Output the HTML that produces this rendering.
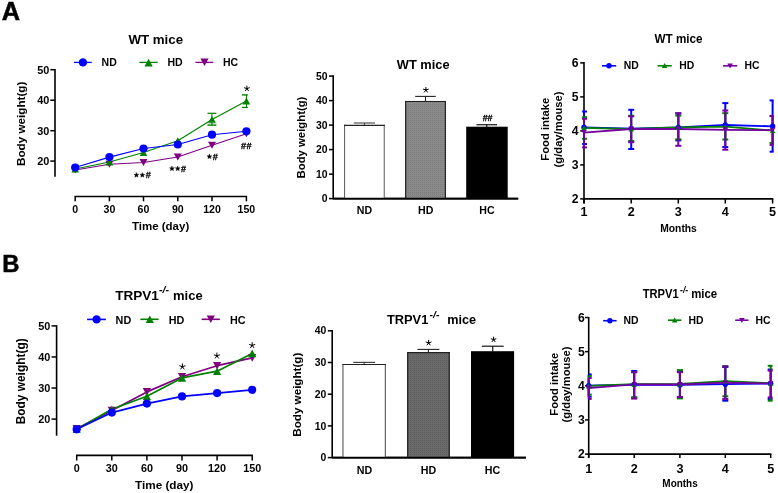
<!DOCTYPE html>
<html><head><meta charset="utf-8"><title>Figure</title>
<style>
html,body{margin:0;padding:0;background:#fff;}
body{width:778px;height:493px;overflow:hidden;}
svg{display:block;will-change:transform;}
text{font-family:"Liberation Sans", sans-serif;}
</style></head>
<body>
<svg width="778" height="493" viewBox="0 0 778 493">
<defs>
<pattern id="dotA" patternUnits="userSpaceOnUse" x="0" y="0" width="2" height="2"><rect width="2" height="2" fill="#8a8a8a"/><rect width="1" height="1" fill="#7c7c7c"/></pattern>
<pattern id="dotB" patternUnits="userSpaceOnUse" x="0" y="0" width="2" height="2"><rect width="2" height="2" fill="#6a6a6a"/><rect width="1" height="1" fill="#5e5e5e"/></pattern>
</defs>
<rect width="778" height="493" fill="#fff"/>
<text x="1.8" y="19.7" font-size="25.4" text-anchor="start" font-weight="bold" fill="#000" stroke="#000" stroke-width="0.5">A</text>
<text x="2.2" y="271.8" font-size="23.8" text-anchor="start" font-weight="bold" fill="#000" stroke="#000" stroke-width="0.5">B</text>
<line x1="55" y1="69" x2="55" y2="176.8" stroke="#000" stroke-width="1.6" stroke-linecap="butt"/>
<line x1="50.3" y1="69.7" x2="55" y2="69.7" stroke="#000" stroke-width="1.5" stroke-linecap="butt"/>
<text x="49.4" y="73.7" font-size="10.9" text-anchor="end" font-weight="bold" fill="#000">50</text>
<line x1="50.3" y1="100.2" x2="55" y2="100.2" stroke="#000" stroke-width="1.5" stroke-linecap="butt"/>
<text x="49.4" y="104.2" font-size="10.9" text-anchor="end" font-weight="bold" fill="#000">40</text>
<line x1="50.3" y1="130.7" x2="55" y2="130.7" stroke="#000" stroke-width="1.5" stroke-linecap="butt"/>
<text x="49.4" y="134.7" font-size="10.9" text-anchor="end" font-weight="bold" fill="#000">30</text>
<line x1="50.3" y1="161.1" x2="55" y2="161.1" stroke="#000" stroke-width="1.5" stroke-linecap="butt"/>
<text x="49.4" y="165.1" font-size="10.9" text-anchor="end" font-weight="bold" fill="#000">20</text>
<line x1="74.5" y1="196.5" x2="247.1" y2="196.5" stroke="#000" stroke-width="1.6" stroke-linecap="butt"/>
<line x1="75.2" y1="196.5" x2="75.2" y2="201.3" stroke="#000" stroke-width="1.5" stroke-linecap="butt"/>
<text x="75.2" y="213.2" font-size="10.6" text-anchor="middle" font-weight="bold" fill="#000">0</text>
<line x1="109.4" y1="196.5" x2="109.4" y2="201.3" stroke="#000" stroke-width="1.5" stroke-linecap="butt"/>
<text x="109.4" y="213.2" font-size="10.6" text-anchor="middle" font-weight="bold" fill="#000">30</text>
<line x1="143.5" y1="196.5" x2="143.5" y2="201.3" stroke="#000" stroke-width="1.5" stroke-linecap="butt"/>
<text x="143.5" y="213.2" font-size="10.6" text-anchor="middle" font-weight="bold" fill="#000">60</text>
<line x1="177.8" y1="196.5" x2="177.8" y2="201.3" stroke="#000" stroke-width="1.5" stroke-linecap="butt"/>
<text x="177.8" y="213.2" font-size="10.6" text-anchor="middle" font-weight="bold" fill="#000">90</text>
<line x1="212" y1="196.5" x2="212" y2="201.3" stroke="#000" stroke-width="1.5" stroke-linecap="butt"/>
<text x="212" y="213.2" font-size="10.6" text-anchor="middle" font-weight="bold" fill="#000">120</text>
<line x1="246.4" y1="196.5" x2="246.4" y2="201.3" stroke="#000" stroke-width="1.5" stroke-linecap="butt"/>
<text x="246.4" y="213.2" font-size="10.6" text-anchor="middle" font-weight="bold" fill="#000">150</text>
<line x1="74" y1="62.4" x2="91.7" y2="62.4" stroke="#0000ff" stroke-width="1.3" stroke-linecap="butt"/>
<circle cx="82.9" cy="62.4" r="4.2" fill="#0000ff"/>
<text x="101.6" y="66.2" font-size="10.5" text-anchor="start" font-weight="bold" fill="#000">ND</text>
<line x1="139.4" y1="62.4" x2="157.7" y2="62.4" stroke="#008000" stroke-width="1.3" stroke-linecap="butt"/>
<polygon points="144.5,66.4 152.7,66.4 148.6,58.8" fill="#008000"/>
<text x="167.5" y="66.2" font-size="10.5" text-anchor="start" font-weight="bold" fill="#000">HD</text>
<line x1="195.4" y1="62.4" x2="213.3" y2="62.4" stroke="#800080" stroke-width="1.3" stroke-linecap="butt"/>
<polygon points="200.4,58.5 208.6,58.5 204.5,66.1" fill="#800080"/>
<text x="223" y="66.2" font-size="10.5" text-anchor="start" font-weight="bold" fill="#000">HC</text>
<polyline points="75.2,170 109.4,164.3 143.5,162.5 177.8,157 212,145.2 246.4,133.7" fill="none" stroke="#800080" stroke-width="1.15" stroke-linejoin="round"/>
<polyline points="75.2,169 109.4,162 143.5,152.5 177.8,140.8 212,119.4 246.4,101" fill="none" stroke="#008000" stroke-width="1.15" stroke-linejoin="round"/>
<polyline points="75.2,167.5 109.4,157.1 143.5,148.5 177.8,144.5 212,134.7 246.4,131.3" fill="none" stroke="#0000ff" stroke-width="1.15" stroke-linejoin="round"/>
<line x1="211.9" y1="113.3" x2="211.9" y2="125.2" stroke="#008000" stroke-width="1.1" stroke-linecap="butt"/>
<line x1="207.5" y1="113.3" x2="216.4" y2="113.3" stroke="#008000" stroke-width="1.2" stroke-linecap="butt"/>
<line x1="207.5" y1="124.2" x2="216.4" y2="124.2" stroke="#008000" stroke-width="0.8" stroke-linecap="butt"/>
<line x1="207.5" y1="125.4" x2="216.4" y2="125.4" stroke="#008000" stroke-width="0.9" stroke-linecap="butt"/>
<line x1="246.5" y1="94.9" x2="246.5" y2="107.4" stroke="#008000" stroke-width="1.1" stroke-linecap="butt"/>
<line x1="241.9" y1="94.9" x2="247.8" y2="94.9" stroke="#008000" stroke-width="1.4" stroke-linecap="butt"/>
<line x1="242.1" y1="107.4" x2="247.8" y2="107.4" stroke="#008000" stroke-width="1.2" stroke-linecap="butt"/>
<polygon points="71.2,166.5 79.2,166.5 75.2,173.5" fill="#800080"/>
<polygon points="105.4,160.8 113.4,160.8 109.4,167.8" fill="#800080"/>
<polygon points="139.5,159 147.5,159 143.5,166" fill="#800080"/>
<polygon points="173.8,153.5 181.8,153.5 177.8,160.5" fill="#800080"/>
<polygon points="208,141.7 216,141.7 212,148.7" fill="#800080"/>
<polygon points="242.4,130.2 250.4,130.2 246.4,137.2" fill="#800080"/>
<polygon points="71.4,172.45 79,172.45 75.2,165.55" fill="#008000"/>
<polygon points="105.6,165.45 113.2,165.45 109.4,158.55" fill="#008000"/>
<polygon points="139.7,155.95 147.3,155.95 143.5,149.05" fill="#008000"/>
<polygon points="174,144.25 181.6,144.25 177.8,137.35" fill="#008000"/>
<polygon points="208.2,122.85 215.8,122.85 212,115.95" fill="#008000"/>
<polygon points="242.6,104.45 250.2,104.45 246.4,97.55" fill="#008000"/>
<circle cx="75.2" cy="167.5" r="4.1" fill="#0000ff"/>
<circle cx="109.4" cy="157.1" r="4.1" fill="#0000ff"/>
<circle cx="143.5" cy="148.5" r="4.1" fill="#0000ff"/>
<circle cx="177.8" cy="144.5" r="4.1" fill="#0000ff"/>
<circle cx="212" cy="134.7" r="4.1" fill="#0000ff"/>
<circle cx="246.4" cy="131.3" r="4.1" fill="#0000ff"/>
<path d="M246.9,88.6L246.9,85.99M246.9,88.6L249.38,87.79M246.9,88.6L248.43,90.71M246.9,88.6L245.37,90.71M246.9,88.6L244.42,87.79" stroke="#000" stroke-width="1.0" stroke-linecap="round" fill="none"/>
<circle cx="246.9" cy="88.6" r="0.75" fill="#000"/>
<text x="240.99" y="149.06" font-size="9.0" text-anchor="start" font-weight="bold" fill="#000" stroke="#000" stroke-width="0.3">#</text>
<text x="246.39" y="149.06" font-size="9.0" text-anchor="start" font-weight="bold" fill="#000" stroke="#000" stroke-width="0.3">#</text>
<polygon points="209.4,154 210.1,155.63 211.87,155.8 210.54,156.97 210.93,158.7 209.4,157.8 207.87,158.7 208.26,156.97 206.93,155.8 208.7,155.63" fill="#000" stroke="#000" stroke-width="0.35" stroke-linejoin="round"/>
<text x="212.69" y="159.66" font-size="9.0" text-anchor="start" font-weight="bold" fill="#000" stroke="#000" stroke-width="0.3">#</text>
<polygon points="171.95,166 172.65,167.63 174.42,167.8 173.09,168.97 173.48,170.7 171.95,169.8 170.42,170.7 170.81,168.97 169.48,167.8 171.25,167.63" fill="#000" stroke="#000" stroke-width="0.35" stroke-linejoin="round"/>
<polygon points="177.7,166 178.4,167.63 180.17,167.8 178.84,168.97 179.23,170.7 177.7,169.8 176.17,170.7 176.56,168.97 175.23,167.8 177,167.63" fill="#000" stroke="#000" stroke-width="0.35" stroke-linejoin="round"/>
<text x="180.94" y="171.66" font-size="9.0" text-anchor="start" font-weight="bold" fill="#000" stroke="#000" stroke-width="0.3">#</text>
<polygon points="136.4,172.5 137.1,174.13 138.87,174.3 137.54,175.47 137.93,177.2 136.4,176.3 134.87,177.2 135.26,175.47 133.93,174.3 135.7,174.13" fill="#000" stroke="#000" stroke-width="0.35" stroke-linejoin="round"/>
<polygon points="142.35,172.5 143.05,174.13 144.82,174.3 143.49,175.47 143.88,177.2 142.35,176.3 140.82,177.2 141.21,175.47 139.88,174.3 141.65,174.13" fill="#000" stroke="#000" stroke-width="0.35" stroke-linejoin="round"/>
<text x="145.79" y="178.16" font-size="9.0" text-anchor="start" font-weight="bold" fill="#000" stroke="#000" stroke-width="0.3">#</text>
<line x1="333.2" y1="75.2" x2="333.2" y2="199.2" stroke="#000" stroke-width="1.6" stroke-linecap="butt"/>
<line x1="329" y1="198.6" x2="333.2" y2="198.6" stroke="#000" stroke-width="1.5" stroke-linecap="butt"/>
<text x="327.6" y="202.2" font-size="10.4" text-anchor="end" font-weight="bold" fill="#000">0</text>
<line x1="329" y1="174.1" x2="333.2" y2="174.1" stroke="#000" stroke-width="1.5" stroke-linecap="butt"/>
<text x="327.6" y="177.7" font-size="10.4" text-anchor="end" font-weight="bold" fill="#000">10</text>
<line x1="329" y1="149.6" x2="333.2" y2="149.6" stroke="#000" stroke-width="1.5" stroke-linecap="butt"/>
<text x="327.6" y="153.2" font-size="10.4" text-anchor="end" font-weight="bold" fill="#000">20</text>
<line x1="329" y1="125.1" x2="333.2" y2="125.1" stroke="#000" stroke-width="1.5" stroke-linecap="butt"/>
<text x="327.6" y="128.7" font-size="10.4" text-anchor="end" font-weight="bold" fill="#000">30</text>
<line x1="329" y1="100.6" x2="333.2" y2="100.6" stroke="#000" stroke-width="1.5" stroke-linecap="butt"/>
<text x="327.6" y="104.2" font-size="10.4" text-anchor="end" font-weight="bold" fill="#000">40</text>
<line x1="329" y1="76.1" x2="333.2" y2="76.1" stroke="#000" stroke-width="1.5" stroke-linecap="butt"/>
<text x="327.6" y="79.7" font-size="10.4" text-anchor="end" font-weight="bold" fill="#000">50</text>
<line x1="333.2" y1="198.6" x2="518.2" y2="198.6" stroke="#000" stroke-width="1.6" stroke-linecap="butt"/>
<rect x="344" y="124.8" width="40.8" height="73.8" fill="#fff" stroke="none" stroke-width="0"/>
<line x1="344.55" y1="124.8" x2="344.55" y2="198.6" stroke="#666" stroke-width="1.1" stroke-linecap="butt"/>
<line x1="384.25" y1="124.8" x2="384.25" y2="198.6" stroke="#666" stroke-width="1.1" stroke-linecap="butt"/>
<line x1="344" y1="125.35" x2="384.8" y2="125.35" stroke="#222" stroke-width="1.1" stroke-linecap="butt"/>
<line x1="364.4" y1="123" x2="364.4" y2="125.1" stroke="#444" stroke-width="1.1" stroke-linecap="butt"/>
<line x1="353.8" y1="123" x2="375" y2="123" stroke="#444" stroke-width="1.1" stroke-linecap="butt"/>
<rect x="405.1" y="100.9" width="40.9" height="97.7" fill="url(#dotA)" stroke="none" stroke-width="0"/>
<line x1="405.7" y1="100.9" x2="405.7" y2="198.6" stroke="#222" stroke-width="1.2" stroke-linecap="butt"/>
<line x1="445.4" y1="100.9" x2="445.4" y2="198.6" stroke="#222" stroke-width="1.2" stroke-linecap="butt"/>
<line x1="405.1" y1="101.5" x2="446" y2="101.5" stroke="#222" stroke-width="1.2" stroke-linecap="butt"/>
<line x1="425.5" y1="96.4" x2="425.5" y2="101.2" stroke="#222" stroke-width="1.1" stroke-linecap="butt"/>
<line x1="415.2" y1="96.4" x2="435.8" y2="96.4" stroke="#222" stroke-width="1.1" stroke-linecap="butt"/>
<rect x="466.2" y="126.7" width="41.5" height="71.9" fill="#000" stroke="none" stroke-width="0"/>
<line x1="486.75" y1="124.75" x2="486.75" y2="127" stroke="#000" stroke-width="1.1" stroke-linecap="butt"/>
<line x1="476.4" y1="124.75" x2="497.1" y2="124.75" stroke="#000" stroke-width="1.1" stroke-linecap="butt"/>
<line x1="333.2" y1="198.6" x2="518.2" y2="198.6" stroke="#000" stroke-width="1.6" stroke-linecap="butt"/>
<text x="364.4" y="213.5" font-size="10.6" text-anchor="middle" font-weight="bold" fill="#000">ND</text>
<text x="425.7" y="213.5" font-size="10.6" text-anchor="middle" font-weight="bold" fill="#000">HD</text>
<text x="487" y="213.8" font-size="10.6" text-anchor="middle" font-weight="bold" fill="#000">HC</text>
<path d="M425.9,90L425.9,87.39M425.9,90L428.38,89.19M425.9,90L427.43,92.11M425.9,90L424.37,92.11M425.9,90L423.42,89.19" stroke="#000" stroke-width="1.0" stroke-linecap="round" fill="none"/>
<circle cx="425.9" cy="90" r="0.75" fill="#000"/>
<text x="482.7" y="120.7" font-size="8.8" text-anchor="start" font-weight="bold" fill="#000" stroke="#000" stroke-width="0.3">#</text>
<text x="487.6" y="120.7" font-size="8.8" text-anchor="start" font-weight="bold" fill="#000" stroke="#000" stroke-width="0.3">#</text>
<line x1="584" y1="62" x2="584" y2="203.5" stroke="#000" stroke-width="1.6" stroke-linecap="butt"/>
<line x1="580.2" y1="198.9" x2="584" y2="198.9" stroke="#000" stroke-width="1.5" stroke-linecap="butt"/>
<text x="578.6" y="203.2" font-size="12.2" text-anchor="end" font-weight="bold" fill="#000">2</text>
<line x1="580.2" y1="164.9" x2="584" y2="164.9" stroke="#000" stroke-width="1.5" stroke-linecap="butt"/>
<text x="578.6" y="169.2" font-size="12.2" text-anchor="end" font-weight="bold" fill="#000">3</text>
<line x1="580.2" y1="130.9" x2="584" y2="130.9" stroke="#000" stroke-width="1.5" stroke-linecap="butt"/>
<text x="578.6" y="135.2" font-size="12.2" text-anchor="end" font-weight="bold" fill="#000">4</text>
<line x1="580.2" y1="96.9" x2="584" y2="96.9" stroke="#000" stroke-width="1.5" stroke-linecap="butt"/>
<text x="578.6" y="101.2" font-size="12.2" text-anchor="end" font-weight="bold" fill="#000">5</text>
<line x1="580.2" y1="62.9" x2="584" y2="62.9" stroke="#000" stroke-width="1.5" stroke-linecap="butt"/>
<text x="578.6" y="67.2" font-size="12.2" text-anchor="end" font-weight="bold" fill="#000">6</text>
<line x1="584" y1="198.9" x2="773.3" y2="198.9" stroke="#000" stroke-width="1.6" stroke-linecap="butt"/>
<line x1="584" y1="198.9" x2="584" y2="203.5" stroke="#000" stroke-width="1.5" stroke-linecap="butt"/>
<text x="584" y="216.4" font-size="12.6" text-anchor="middle" font-weight="bold" fill="#000">1</text>
<line x1="631.2" y1="198.9" x2="631.2" y2="203.5" stroke="#000" stroke-width="1.5" stroke-linecap="butt"/>
<text x="631.2" y="216.4" font-size="12.6" text-anchor="middle" font-weight="bold" fill="#000">2</text>
<line x1="678.3" y1="198.9" x2="678.3" y2="203.5" stroke="#000" stroke-width="1.5" stroke-linecap="butt"/>
<text x="678.3" y="216.4" font-size="12.6" text-anchor="middle" font-weight="bold" fill="#000">3</text>
<line x1="725.3" y1="198.9" x2="725.3" y2="203.5" stroke="#000" stroke-width="1.5" stroke-linecap="butt"/>
<text x="725.3" y="216.4" font-size="12.6" text-anchor="middle" font-weight="bold" fill="#000">4</text>
<line x1="772.6" y1="198.9" x2="772.6" y2="203.5" stroke="#000" stroke-width="1.5" stroke-linecap="butt"/>
<text x="772.6" y="216.4" font-size="12.6" text-anchor="middle" font-weight="bold" fill="#000">5</text>
<line x1="602" y1="65.8" x2="616.2" y2="65.8" stroke="#0000ff" stroke-width="1.6" stroke-linecap="butt"/>
<circle cx="609" cy="65.8" r="2.7" fill="#0000ff"/>
<text x="623.7" y="69.3" font-size="10.4" text-anchor="start" font-weight="bold" fill="#000">ND</text>
<line x1="657.6" y1="65.8" x2="671.7" y2="65.8" stroke="#008000" stroke-width="1.6" stroke-linecap="butt"/>
<polygon points="661.8,68.1 667.4,68.1 664.6,63.1" fill="#008000"/>
<text x="679.3" y="69.3" font-size="10.4" text-anchor="start" font-weight="bold" fill="#000">HD</text>
<line x1="723.1" y1="65.8" x2="737.2" y2="65.8" stroke="#7400a0" stroke-width="1.6" stroke-linecap="butt"/>
<polygon points="727.3,63.5 732.9,63.5 730.1,68.5" fill="#7400a0"/>
<text x="744.6" y="69.3" font-size="10.4" text-anchor="start" font-weight="bold" fill="#000">HC</text>
<line x1="584" y1="111.5" x2="584" y2="144" stroke="#0000ff" stroke-width="2.0" stroke-linecap="butt"/>
<line x1="582.1" y1="111.5" x2="587" y2="111.5" stroke="#0000ff" stroke-width="2.0" stroke-linecap="butt"/>
<line x1="582.1" y1="144" x2="587" y2="144" stroke="#0000ff" stroke-width="2.0" stroke-linecap="butt"/>
<line x1="631.2" y1="109.8" x2="631.2" y2="149" stroke="#0000ff" stroke-width="2.0" stroke-linecap="butt"/>
<line x1="628.2" y1="109.8" x2="634.2" y2="109.8" stroke="#0000ff" stroke-width="2.0" stroke-linecap="butt"/>
<line x1="628.2" y1="149" x2="634.2" y2="149" stroke="#0000ff" stroke-width="2.0" stroke-linecap="butt"/>
<line x1="678.3" y1="113.5" x2="678.3" y2="140.4" stroke="#0000ff" stroke-width="2.0" stroke-linecap="butt"/>
<line x1="675.3" y1="113.5" x2="681.3" y2="113.5" stroke="#0000ff" stroke-width="2.0" stroke-linecap="butt"/>
<line x1="675.3" y1="140.4" x2="681.3" y2="140.4" stroke="#0000ff" stroke-width="2.0" stroke-linecap="butt"/>
<line x1="725.3" y1="103.1" x2="725.3" y2="147" stroke="#0000ff" stroke-width="2.0" stroke-linecap="butt"/>
<line x1="722.3" y1="103.1" x2="728.3" y2="103.1" stroke="#0000ff" stroke-width="2.0" stroke-linecap="butt"/>
<line x1="722.3" y1="147" x2="728.3" y2="147" stroke="#0000ff" stroke-width="2.0" stroke-linecap="butt"/>
<line x1="772.6" y1="100.4" x2="772.6" y2="151.7" stroke="#0000ff" stroke-width="2.0" stroke-linecap="butt"/>
<line x1="769.6" y1="100.4" x2="773.6" y2="100.4" stroke="#0000ff" stroke-width="2.0" stroke-linecap="butt"/>
<line x1="769.6" y1="151.7" x2="773.6" y2="151.7" stroke="#0000ff" stroke-width="2.0" stroke-linecap="butt"/>
<line x1="584" y1="117.2" x2="584" y2="138.8" stroke="#008000" stroke-width="2.0" stroke-linecap="butt"/>
<line x1="582.1" y1="117.2" x2="587" y2="117.2" stroke="#008000" stroke-width="2.0" stroke-linecap="butt"/>
<line x1="582.1" y1="138.8" x2="587" y2="138.8" stroke="#008000" stroke-width="2.0" stroke-linecap="butt"/>
<line x1="631.2" y1="115.8" x2="631.2" y2="141" stroke="#008000" stroke-width="2.0" stroke-linecap="butt"/>
<line x1="628.2" y1="115.8" x2="634.2" y2="115.8" stroke="#008000" stroke-width="2.0" stroke-linecap="butt"/>
<line x1="628.2" y1="141" x2="634.2" y2="141" stroke="#008000" stroke-width="2.0" stroke-linecap="butt"/>
<line x1="678.3" y1="115.6" x2="678.3" y2="139.3" stroke="#008000" stroke-width="2.0" stroke-linecap="butt"/>
<line x1="675.3" y1="115.6" x2="681.3" y2="115.6" stroke="#008000" stroke-width="2.0" stroke-linecap="butt"/>
<line x1="675.3" y1="139.3" x2="681.3" y2="139.3" stroke="#008000" stroke-width="2.0" stroke-linecap="butt"/>
<line x1="725.3" y1="113.2" x2="725.3" y2="139.5" stroke="#008000" stroke-width="2.0" stroke-linecap="butt"/>
<line x1="722.3" y1="113.2" x2="728.3" y2="113.2" stroke="#008000" stroke-width="2.0" stroke-linecap="butt"/>
<line x1="722.3" y1="139.5" x2="728.3" y2="139.5" stroke="#008000" stroke-width="2.0" stroke-linecap="butt"/>
<line x1="772.6" y1="116" x2="772.6" y2="143" stroke="#008000" stroke-width="2.0" stroke-linecap="butt"/>
<line x1="769.6" y1="116" x2="773.6" y2="116" stroke="#008000" stroke-width="2.0" stroke-linecap="butt"/>
<line x1="769.6" y1="143" x2="773.6" y2="143" stroke="#008000" stroke-width="2.0" stroke-linecap="butt"/>
<line x1="584" y1="118.8" x2="584" y2="147.4" stroke="#7400a0" stroke-width="2.0" stroke-linecap="butt"/>
<line x1="582.1" y1="118.8" x2="587" y2="118.8" stroke="#7400a0" stroke-width="2.0" stroke-linecap="butt"/>
<line x1="582.1" y1="147.4" x2="587" y2="147.4" stroke="#7400a0" stroke-width="2.0" stroke-linecap="butt"/>
<line x1="631.2" y1="116.3" x2="631.2" y2="142.2" stroke="#7400a0" stroke-width="2.0" stroke-linecap="butt"/>
<line x1="628.2" y1="116.3" x2="634.2" y2="116.3" stroke="#7400a0" stroke-width="2.0" stroke-linecap="butt"/>
<line x1="628.2" y1="142.2" x2="634.2" y2="142.2" stroke="#7400a0" stroke-width="2.0" stroke-linecap="butt"/>
<line x1="678.3" y1="113.2" x2="678.3" y2="145.8" stroke="#7400a0" stroke-width="2.0" stroke-linecap="butt"/>
<line x1="675.3" y1="113.2" x2="681.3" y2="113.2" stroke="#7400a0" stroke-width="2.0" stroke-linecap="butt"/>
<line x1="675.3" y1="145.8" x2="681.3" y2="145.8" stroke="#7400a0" stroke-width="2.0" stroke-linecap="butt"/>
<line x1="725.3" y1="110.5" x2="725.3" y2="149.7" stroke="#7400a0" stroke-width="2.0" stroke-linecap="butt"/>
<line x1="722.3" y1="110.5" x2="728.3" y2="110.5" stroke="#7400a0" stroke-width="2.0" stroke-linecap="butt"/>
<line x1="722.3" y1="149.7" x2="728.3" y2="149.7" stroke="#7400a0" stroke-width="2.0" stroke-linecap="butt"/>
<line x1="772.6" y1="115.9" x2="772.6" y2="144.9" stroke="#7400a0" stroke-width="2.0" stroke-linecap="butt"/>
<line x1="769.6" y1="115.9" x2="773.6" y2="115.9" stroke="#7400a0" stroke-width="2.0" stroke-linecap="butt"/>
<line x1="769.6" y1="144.9" x2="773.6" y2="144.9" stroke="#7400a0" stroke-width="2.0" stroke-linecap="butt"/>
<polyline points="584,127.3 631.2,128.6 678.3,127.4 725.3,125 772.6,126.3" fill="none" stroke="#0000ff" stroke-width="1.8" stroke-linejoin="round"/>
<polyline points="584,127.8 631.2,129 678.3,127.4 725.3,126.7 772.6,130.6" fill="none" stroke="#008000" stroke-width="1.8" stroke-linejoin="round"/>
<polyline points="584,132.6 631.2,129 678.3,129 725.3,129.8 772.6,130.2" fill="none" stroke="#7400a0" stroke-width="1.8" stroke-linejoin="round"/>
<circle cx="584" cy="127.3" r="2.7" fill="#0000ff"/>
<circle cx="631.2" cy="128.6" r="2.7" fill="#0000ff"/>
<circle cx="678.3" cy="127.4" r="2.7" fill="#0000ff"/>
<circle cx="725.3" cy="125" r="2.7" fill="#0000ff"/>
<circle cx="772.6" cy="126.3" r="2.7" fill="#0000ff"/>
<polygon points="581.3,130.3 586.7,130.3 584,125.3" fill="#008000"/>
<polygon points="628.5,131.5 633.9,131.5 631.2,126.5" fill="#008000"/>
<polygon points="675.6,129.9 681,129.9 678.3,124.9" fill="#008000"/>
<polygon points="722.6,129.2 728,129.2 725.3,124.2" fill="#008000"/>
<polygon points="769.9,133.1 775.3,133.1 772.6,128.1" fill="#008000"/>
<polygon points="581.3,130.1 586.7,130.1 584,135.1" fill="#7400a0"/>
<polygon points="628.5,126.5 633.9,126.5 631.2,131.5" fill="#7400a0"/>
<polygon points="675.6,126.5 681,126.5 678.3,131.5" fill="#7400a0"/>
<polygon points="722.6,127.3 728,127.3 725.3,132.3" fill="#7400a0"/>
<polygon points="769.9,127.7 775.3,127.7 772.6,132.7" fill="#7400a0"/>
<line x1="56.6" y1="325.2" x2="56.6" y2="435.7" stroke="#000" stroke-width="1.6" stroke-linecap="butt"/>
<line x1="51.5" y1="325.89" x2="56.6" y2="325.89" stroke="#000" stroke-width="1.5" stroke-linecap="butt"/>
<text x="50.4" y="330.19" font-size="10.9" text-anchor="end" font-weight="bold" fill="#000">50</text>
<line x1="51.5" y1="356.96" x2="56.6" y2="356.96" stroke="#000" stroke-width="1.5" stroke-linecap="butt"/>
<text x="50.4" y="361.26" font-size="10.9" text-anchor="end" font-weight="bold" fill="#000">40</text>
<line x1="51.5" y1="388.03" x2="56.6" y2="388.03" stroke="#000" stroke-width="1.5" stroke-linecap="butt"/>
<text x="50.4" y="392.33" font-size="10.9" text-anchor="end" font-weight="bold" fill="#000">30</text>
<line x1="51.5" y1="419.1" x2="56.6" y2="419.1" stroke="#000" stroke-width="1.5" stroke-linecap="butt"/>
<text x="50.4" y="423.4" font-size="10.9" text-anchor="end" font-weight="bold" fill="#000">20</text>
<line x1="76" y1="455.4" x2="252.9" y2="455.4" stroke="#000" stroke-width="1.6" stroke-linecap="butt"/>
<line x1="76.7" y1="455.4" x2="76.7" y2="460.5" stroke="#000" stroke-width="1.5" stroke-linecap="butt"/>
<text x="76.7" y="472.4" font-size="10.8" text-anchor="middle" font-weight="bold" fill="#000">0</text>
<line x1="111.8" y1="455.4" x2="111.8" y2="460.5" stroke="#000" stroke-width="1.5" stroke-linecap="butt"/>
<text x="111.8" y="472.4" font-size="10.8" text-anchor="middle" font-weight="bold" fill="#000">30</text>
<line x1="146.9" y1="455.4" x2="146.9" y2="460.5" stroke="#000" stroke-width="1.5" stroke-linecap="butt"/>
<text x="146.9" y="472.4" font-size="10.8" text-anchor="middle" font-weight="bold" fill="#000">60</text>
<line x1="182" y1="455.4" x2="182" y2="460.5" stroke="#000" stroke-width="1.5" stroke-linecap="butt"/>
<text x="182" y="472.4" font-size="10.8" text-anchor="middle" font-weight="bold" fill="#000">90</text>
<line x1="217.1" y1="455.4" x2="217.1" y2="460.5" stroke="#000" stroke-width="1.5" stroke-linecap="butt"/>
<text x="217.1" y="472.4" font-size="10.8" text-anchor="middle" font-weight="bold" fill="#000">120</text>
<line x1="252.2" y1="455.4" x2="252.2" y2="460.5" stroke="#000" stroke-width="1.5" stroke-linecap="butt"/>
<text x="252.2" y="472.4" font-size="10.8" text-anchor="middle" font-weight="bold" fill="#000">150</text>
<line x1="87.1" y1="319.4" x2="105.9" y2="319.4" stroke="#0000ff" stroke-width="1.6" stroke-linecap="butt"/>
<circle cx="96.6" cy="319.4" r="4.2" fill="#0000ff"/>
<text x="115.6" y="323.5" font-size="10.8" text-anchor="start" font-weight="bold" fill="#000">ND</text>
<line x1="140.4" y1="319.3" x2="158.6" y2="319.3" stroke="#008000" stroke-width="1.6" stroke-linecap="butt"/>
<polygon points="145.7,323 153.9,323 149.8,315.4" fill="#008000"/>
<text x="168.8" y="323.5" font-size="10.8" text-anchor="start" font-weight="bold" fill="#000">HD</text>
<line x1="201.6" y1="319.3" x2="219.8" y2="319.3" stroke="#800080" stroke-width="1.6" stroke-linecap="butt"/>
<polygon points="206.7,315.5 214.9,315.5 210.8,323.1" fill="#800080"/>
<text x="230" y="323.5" font-size="10.8" text-anchor="start" font-weight="bold" fill="#000">HC</text>
<polyline points="76.7,428.7 111.8,410.5 146.9,391.9 182,376.8 217.1,365.7 252.2,357.9" fill="none" stroke="#800080" stroke-width="1.7" stroke-linejoin="round"/>
<polyline points="76.7,429.3 111.8,409.2 146.9,396.3 182,377.9 217.1,371.2 252.2,353.4" fill="none" stroke="#008000" stroke-width="1.7" stroke-linejoin="round"/>
<polyline points="76.7,429.3 111.8,412.6 146.9,403.6 182,396.4 217.1,393.1 252.2,389.8" fill="none" stroke="#0000ff" stroke-width="1.7" stroke-linejoin="round"/>
<polygon points="72.6,424.9 80.8,424.9 76.7,432.5" fill="#800080"/>
<polygon points="107.7,406.7 115.9,406.7 111.8,414.3" fill="#800080"/>
<polygon points="142.8,388.1 151,388.1 146.9,395.7" fill="#800080"/>
<polygon points="177.9,373 186.1,373 182,380.6" fill="#800080"/>
<polygon points="213,361.9 221.2,361.9 217.1,369.5" fill="#800080"/>
<polygon points="248.1,354.1 256.3,354.1 252.2,361.7" fill="#800080"/>
<polygon points="72.6,433.1 80.8,433.1 76.7,425.5" fill="#008000"/>
<polygon points="107.7,413 115.9,413 111.8,405.4" fill="#008000"/>
<polygon points="142.8,400.1 151,400.1 146.9,392.5" fill="#008000"/>
<polygon points="177.9,381.7 186.1,381.7 182,374.1" fill="#008000"/>
<polygon points="213,375 221.2,375 217.1,367.4" fill="#008000"/>
<polygon points="248.1,357.2 256.3,357.2 252.2,349.6" fill="#008000"/>
<circle cx="76.7" cy="429.3" r="4.1" fill="#0000ff"/>
<circle cx="111.8" cy="412.6" r="4.1" fill="#0000ff"/>
<circle cx="146.9" cy="403.6" r="4.1" fill="#0000ff"/>
<circle cx="182" cy="396.4" r="4.1" fill="#0000ff"/>
<circle cx="217.1" cy="393.1" r="4.1" fill="#0000ff"/>
<circle cx="252.2" cy="389.8" r="4.1" fill="#0000ff"/>
<path d="M182.4,366.7L182.4,363.91M182.4,366.7L185.05,365.84M182.4,366.7L184.04,368.96M182.4,366.7L180.76,368.96M182.4,366.7L179.75,365.84" stroke="#000" stroke-width="1.0" stroke-linecap="round" fill="none"/>
<circle cx="182.4" cy="366.7" r="0.75" fill="#000"/>
<path d="M216.9,355.8L216.9,353.01M216.9,355.8L219.55,354.94M216.9,355.8L218.54,358.06M216.9,355.8L215.26,358.06M216.9,355.8L214.25,354.94" stroke="#000" stroke-width="1.0" stroke-linecap="round" fill="none"/>
<circle cx="216.9" cy="355.8" r="0.75" fill="#000"/>
<path d="M252.2,345.4L252.2,342.61M252.2,345.4L254.85,344.54M252.2,345.4L253.84,347.66M252.2,345.4L250.56,347.66M252.2,345.4L249.55,344.54" stroke="#000" stroke-width="1.0" stroke-linecap="round" fill="none"/>
<circle cx="252.2" cy="345.4" r="0.75" fill="#000"/>
<line x1="332.2" y1="330" x2="332.2" y2="458.2" stroke="#000" stroke-width="1.6" stroke-linecap="butt"/>
<line x1="327.8" y1="457.6" x2="332.2" y2="457.6" stroke="#000" stroke-width="1.5" stroke-linecap="butt"/>
<text x="326.4" y="461.2" font-size="10.4" text-anchor="end" font-weight="bold" fill="#000">0</text>
<line x1="327.8" y1="425.9" x2="332.2" y2="425.9" stroke="#000" stroke-width="1.5" stroke-linecap="butt"/>
<text x="326.4" y="429.5" font-size="10.4" text-anchor="end" font-weight="bold" fill="#000">10</text>
<line x1="327.8" y1="394.2" x2="332.2" y2="394.2" stroke="#000" stroke-width="1.5" stroke-linecap="butt"/>
<text x="326.4" y="397.8" font-size="10.4" text-anchor="end" font-weight="bold" fill="#000">20</text>
<line x1="327.8" y1="362.5" x2="332.2" y2="362.5" stroke="#000" stroke-width="1.5" stroke-linecap="butt"/>
<text x="326.4" y="366.1" font-size="10.4" text-anchor="end" font-weight="bold" fill="#000">30</text>
<line x1="327.8" y1="330.8" x2="332.2" y2="330.8" stroke="#000" stroke-width="1.5" stroke-linecap="butt"/>
<text x="326.4" y="334.4" font-size="10.4" text-anchor="end" font-weight="bold" fill="#000">40</text>
<line x1="332.2" y1="457.6" x2="526" y2="457.6" stroke="#000" stroke-width="1.6" stroke-linecap="butt"/>
<rect x="342.4" y="363.9" width="43.5" height="93.7" fill="#fff" stroke="none" stroke-width="0"/>
<line x1="342.95" y1="363.9" x2="342.95" y2="457.6" stroke="#555" stroke-width="1.1" stroke-linecap="butt"/>
<line x1="385.35" y1="363.9" x2="385.35" y2="457.6" stroke="#555" stroke-width="1.1" stroke-linecap="butt"/>
<line x1="342.4" y1="364.45" x2="385.9" y2="364.45" stroke="#222" stroke-width="1.1" stroke-linecap="butt"/>
<line x1="364.15" y1="362.35" x2="364.15" y2="364.2" stroke="#333" stroke-width="1.1" stroke-linecap="butt"/>
<line x1="353.2" y1="362.35" x2="375.1" y2="362.35" stroke="#333" stroke-width="1.1" stroke-linecap="butt"/>
<rect x="407.1" y="352.1" width="42.7" height="105.5" fill="url(#dotB)" stroke="none" stroke-width="0"/>
<line x1="407.7" y1="352.1" x2="407.7" y2="457.6" stroke="#222" stroke-width="1.2" stroke-linecap="butt"/>
<line x1="449.2" y1="352.1" x2="449.2" y2="457.6" stroke="#222" stroke-width="1.2" stroke-linecap="butt"/>
<line x1="407.1" y1="352.7" x2="449.8" y2="352.7" stroke="#222" stroke-width="1.2" stroke-linecap="butt"/>
<line x1="428.4" y1="349.4" x2="428.4" y2="352.4" stroke="#222" stroke-width="1.1" stroke-linecap="butt"/>
<line x1="417.4" y1="349.4" x2="439.4" y2="349.4" stroke="#222" stroke-width="1.1" stroke-linecap="butt"/>
<rect x="471" y="351.2" width="43.1" height="106.4" fill="#000" stroke="none" stroke-width="0"/>
<line x1="492.75" y1="346.2" x2="492.75" y2="351.5" stroke="#000" stroke-width="1.1" stroke-linecap="butt"/>
<line x1="481.8" y1="346.2" x2="503.7" y2="346.2" stroke="#000" stroke-width="1.1" stroke-linecap="butt"/>
<line x1="332.2" y1="457.6" x2="526" y2="457.6" stroke="#000" stroke-width="1.6" stroke-linecap="butt"/>
<text x="364.4" y="473.6" font-size="10.7" text-anchor="middle" font-weight="bold" fill="#000">ND</text>
<text x="428.5" y="473.6" font-size="10.7" text-anchor="middle" font-weight="bold" fill="#000">HD</text>
<text x="492.4" y="473.6" font-size="10.7" text-anchor="middle" font-weight="bold" fill="#000">HC</text>
<path d="M428.6,342.9L428.6,340.29M428.6,342.9L431.08,342.09M428.6,342.9L430.13,345.01M428.6,342.9L427.07,345.01M428.6,342.9L426.12,342.09" stroke="#000" stroke-width="1.0" stroke-linecap="round" fill="none"/>
<circle cx="428.6" cy="342.9" r="0.75" fill="#000"/>
<path d="M493.6,339.6L493.6,337.08M493.6,339.6L496,338.82M493.6,339.6L495.08,341.64M493.6,339.6L492.12,341.64M493.6,339.6L491.2,338.82" stroke="#000" stroke-width="1.0" stroke-linecap="round" fill="none"/>
<circle cx="493.6" cy="339.6" r="0.75" fill="#000"/>
<line x1="588.7" y1="317" x2="588.7" y2="458" stroke="#000" stroke-width="1.6" stroke-linecap="butt"/>
<line x1="585" y1="454.1" x2="588.7" y2="454.1" stroke="#000" stroke-width="1.5" stroke-linecap="butt"/>
<text x="584.7" y="458.1" font-size="12.2" text-anchor="end" font-weight="bold" fill="#000">2</text>
<line x1="585" y1="419.95" x2="588.7" y2="419.95" stroke="#000" stroke-width="1.5" stroke-linecap="butt"/>
<text x="584.7" y="423.95" font-size="12.2" text-anchor="end" font-weight="bold" fill="#000">3</text>
<line x1="585" y1="385.8" x2="588.7" y2="385.8" stroke="#000" stroke-width="1.5" stroke-linecap="butt"/>
<text x="584.7" y="389.8" font-size="12.2" text-anchor="end" font-weight="bold" fill="#000">4</text>
<line x1="585" y1="351.65" x2="588.7" y2="351.65" stroke="#000" stroke-width="1.5" stroke-linecap="butt"/>
<text x="584.7" y="355.65" font-size="12.2" text-anchor="end" font-weight="bold" fill="#000">5</text>
<line x1="585" y1="317.5" x2="588.7" y2="317.5" stroke="#000" stroke-width="1.5" stroke-linecap="butt"/>
<text x="584.7" y="321.5" font-size="12.2" text-anchor="end" font-weight="bold" fill="#000">6</text>
<line x1="588.7" y1="454.1" x2="771.4" y2="454.1" stroke="#000" stroke-width="1.6" stroke-linecap="butt"/>
<line x1="588.7" y1="454.1" x2="588.7" y2="458" stroke="#000" stroke-width="1.5" stroke-linecap="butt"/>
<text x="588.7" y="472.8" font-size="12.6" text-anchor="middle" font-weight="bold" fill="#000">1</text>
<line x1="634.2" y1="454.1" x2="634.2" y2="458" stroke="#000" stroke-width="1.5" stroke-linecap="butt"/>
<text x="634.2" y="472.8" font-size="12.6" text-anchor="middle" font-weight="bold" fill="#000">2</text>
<line x1="679.9" y1="454.1" x2="679.9" y2="458" stroke="#000" stroke-width="1.5" stroke-linecap="butt"/>
<text x="679.9" y="472.8" font-size="12.6" text-anchor="middle" font-weight="bold" fill="#000">3</text>
<line x1="725.3" y1="454.1" x2="725.3" y2="458" stroke="#000" stroke-width="1.5" stroke-linecap="butt"/>
<text x="725.3" y="472.8" font-size="12.6" text-anchor="middle" font-weight="bold" fill="#000">4</text>
<line x1="770.7" y1="454.1" x2="770.7" y2="458" stroke="#000" stroke-width="1.5" stroke-linecap="butt"/>
<text x="770.7" y="472.8" font-size="12.6" text-anchor="middle" font-weight="bold" fill="#000">5</text>
<line x1="603.2" y1="320.7" x2="616.6" y2="320.7" stroke="#0000ff" stroke-width="1.6" stroke-linecap="butt"/>
<circle cx="609.9" cy="320.7" r="2.7" fill="#0000ff"/>
<text x="623.5" y="324.3" font-size="10.4" text-anchor="start" font-weight="bold" fill="#000">ND</text>
<line x1="668" y1="320.2" x2="681.4" y2="320.2" stroke="#008000" stroke-width="1.6" stroke-linecap="butt"/>
<polygon points="671.9,322.5 677.5,322.5 674.7,317.5" fill="#008000"/>
<text x="688.6" y="323.8" font-size="10.4" text-anchor="start" font-weight="bold" fill="#000">HD</text>
<line x1="735.2" y1="320.2" x2="748.5" y2="320.2" stroke="#7400a0" stroke-width="1.6" stroke-linecap="butt"/>
<polygon points="739.1,317.9 744.7,317.9 741.9,322.9" fill="#7400a0"/>
<text x="755.5" y="323.8" font-size="10.4" text-anchor="start" font-weight="bold" fill="#000">HC</text>
<line x1="588.7" y1="374.4" x2="588.7" y2="396.7" stroke="#0000ff" stroke-width="2.0" stroke-linecap="butt"/>
<line x1="588.6" y1="374.4" x2="591.7" y2="374.4" stroke="#0000ff" stroke-width="2.0" stroke-linecap="butt"/>
<line x1="588.6" y1="396.7" x2="591.7" y2="396.7" stroke="#0000ff" stroke-width="2.0" stroke-linecap="butt"/>
<line x1="634.2" y1="371" x2="634.2" y2="397.7" stroke="#0000ff" stroke-width="2.0" stroke-linecap="butt"/>
<line x1="631.2" y1="371" x2="637.2" y2="371" stroke="#0000ff" stroke-width="2.0" stroke-linecap="butt"/>
<line x1="631.2" y1="397.7" x2="637.2" y2="397.7" stroke="#0000ff" stroke-width="2.0" stroke-linecap="butt"/>
<line x1="679.9" y1="371.5" x2="679.9" y2="397.2" stroke="#0000ff" stroke-width="2.0" stroke-linecap="butt"/>
<line x1="676.9" y1="371.5" x2="682.9" y2="371.5" stroke="#0000ff" stroke-width="2.0" stroke-linecap="butt"/>
<line x1="676.9" y1="397.2" x2="682.9" y2="397.2" stroke="#0000ff" stroke-width="2.0" stroke-linecap="butt"/>
<line x1="725.3" y1="367" x2="725.3" y2="400.7" stroke="#0000ff" stroke-width="2.0" stroke-linecap="butt"/>
<line x1="722.3" y1="367" x2="728.3" y2="367" stroke="#0000ff" stroke-width="2.0" stroke-linecap="butt"/>
<line x1="722.3" y1="400.7" x2="728.3" y2="400.7" stroke="#0000ff" stroke-width="2.0" stroke-linecap="butt"/>
<line x1="770.7" y1="369.5" x2="770.7" y2="399" stroke="#0000ff" stroke-width="2.0" stroke-linecap="butt"/>
<line x1="767.7" y1="369.5" x2="772.6" y2="369.5" stroke="#0000ff" stroke-width="2.0" stroke-linecap="butt"/>
<line x1="767.7" y1="399" x2="772.6" y2="399" stroke="#0000ff" stroke-width="2.0" stroke-linecap="butt"/>
<line x1="588.7" y1="376" x2="588.7" y2="394.6" stroke="#008000" stroke-width="2.0" stroke-linecap="butt"/>
<line x1="588.6" y1="376" x2="591.7" y2="376" stroke="#008000" stroke-width="2.0" stroke-linecap="butt"/>
<line x1="588.6" y1="394.6" x2="591.7" y2="394.6" stroke="#008000" stroke-width="2.0" stroke-linecap="butt"/>
<line x1="634.2" y1="372.2" x2="634.2" y2="397.2" stroke="#008000" stroke-width="2.0" stroke-linecap="butt"/>
<line x1="631.2" y1="372.2" x2="637.2" y2="372.2" stroke="#008000" stroke-width="2.0" stroke-linecap="butt"/>
<line x1="631.2" y1="397.2" x2="637.2" y2="397.2" stroke="#008000" stroke-width="2.0" stroke-linecap="butt"/>
<line x1="679.9" y1="370.1" x2="679.9" y2="398.4" stroke="#008000" stroke-width="2.0" stroke-linecap="butt"/>
<line x1="676.9" y1="370.1" x2="682.9" y2="370.1" stroke="#008000" stroke-width="2.0" stroke-linecap="butt"/>
<line x1="676.9" y1="398.4" x2="682.9" y2="398.4" stroke="#008000" stroke-width="2.0" stroke-linecap="butt"/>
<line x1="725.3" y1="366.2" x2="725.3" y2="396.3" stroke="#008000" stroke-width="2.0" stroke-linecap="butt"/>
<line x1="722.3" y1="366.2" x2="728.3" y2="366.2" stroke="#008000" stroke-width="2.0" stroke-linecap="butt"/>
<line x1="722.3" y1="396.3" x2="728.3" y2="396.3" stroke="#008000" stroke-width="2.0" stroke-linecap="butt"/>
<line x1="770.7" y1="365.8" x2="770.7" y2="400.7" stroke="#008000" stroke-width="2.0" stroke-linecap="butt"/>
<line x1="767.7" y1="365.8" x2="772.6" y2="365.8" stroke="#008000" stroke-width="2.0" stroke-linecap="butt"/>
<line x1="767.7" y1="400.7" x2="772.6" y2="400.7" stroke="#008000" stroke-width="2.0" stroke-linecap="butt"/>
<line x1="588.7" y1="378" x2="588.7" y2="398.9" stroke="#7400a0" stroke-width="2.0" stroke-linecap="butt"/>
<line x1="588.6" y1="378" x2="591.7" y2="378" stroke="#7400a0" stroke-width="2.0" stroke-linecap="butt"/>
<line x1="588.6" y1="398.9" x2="591.7" y2="398.9" stroke="#7400a0" stroke-width="2.0" stroke-linecap="butt"/>
<line x1="634.2" y1="372.2" x2="634.2" y2="398.6" stroke="#7400a0" stroke-width="2.0" stroke-linecap="butt"/>
<line x1="631.2" y1="372.2" x2="637.2" y2="372.2" stroke="#7400a0" stroke-width="2.0" stroke-linecap="butt"/>
<line x1="631.2" y1="398.6" x2="637.2" y2="398.6" stroke="#7400a0" stroke-width="2.0" stroke-linecap="butt"/>
<line x1="679.9" y1="372.2" x2="679.9" y2="397" stroke="#7400a0" stroke-width="2.0" stroke-linecap="butt"/>
<line x1="676.9" y1="372.2" x2="682.9" y2="372.2" stroke="#7400a0" stroke-width="2.0" stroke-linecap="butt"/>
<line x1="676.9" y1="397" x2="682.9" y2="397" stroke="#7400a0" stroke-width="2.0" stroke-linecap="butt"/>
<line x1="725.3" y1="366.4" x2="725.3" y2="399" stroke="#7400a0" stroke-width="2.0" stroke-linecap="butt"/>
<line x1="722.3" y1="366.4" x2="728.3" y2="366.4" stroke="#7400a0" stroke-width="2.0" stroke-linecap="butt"/>
<line x1="722.3" y1="399" x2="728.3" y2="399" stroke="#7400a0" stroke-width="2.0" stroke-linecap="butt"/>
<line x1="770.7" y1="370.6" x2="770.7" y2="397.4" stroke="#7400a0" stroke-width="2.0" stroke-linecap="butt"/>
<line x1="767.7" y1="370.6" x2="772.6" y2="370.6" stroke="#7400a0" stroke-width="2.0" stroke-linecap="butt"/>
<line x1="767.7" y1="397.4" x2="772.6" y2="397.4" stroke="#7400a0" stroke-width="2.0" stroke-linecap="butt"/>
<polyline points="588.7,385.6 634.2,384.6 679.9,384.9 725.3,384.2 770.7,383.6" fill="none" stroke="#0000ff" stroke-width="1.8" stroke-linejoin="round"/>
<polyline points="588.7,385.9 634.2,384.2 679.9,384 725.3,381.2 770.7,383.2" fill="none" stroke="#008000" stroke-width="1.8" stroke-linejoin="round"/>
<polyline points="588.7,388.1 634.2,384.4 679.9,384.5 725.3,382.7 770.7,383.6" fill="none" stroke="#7400a0" stroke-width="1.8" stroke-linejoin="round"/>
<circle cx="588.7" cy="385.6" r="2.7" fill="#0000ff"/>
<circle cx="634.2" cy="384.6" r="2.7" fill="#0000ff"/>
<circle cx="679.9" cy="384.9" r="2.7" fill="#0000ff"/>
<circle cx="725.3" cy="384.2" r="2.7" fill="#0000ff"/>
<circle cx="770.7" cy="383.6" r="2.7" fill="#0000ff"/>
<polygon points="586,388.4 591.4,388.4 588.7,383.4" fill="#008000"/>
<polygon points="631.5,386.7 636.9,386.7 634.2,381.7" fill="#008000"/>
<polygon points="677.2,386.5 682.6,386.5 679.9,381.5" fill="#008000"/>
<polygon points="722.6,383.7 728,383.7 725.3,378.7" fill="#008000"/>
<polygon points="768,385.7 773.4,385.7 770.7,380.7" fill="#008000"/>
<polygon points="586,385.6 591.4,385.6 588.7,390.6" fill="#7400a0"/>
<polygon points="631.5,381.9 636.9,381.9 634.2,386.9" fill="#7400a0"/>
<polygon points="677.2,382 682.6,382 679.9,387" fill="#7400a0"/>
<polygon points="722.6,380.2 728,380.2 725.3,385.2" fill="#7400a0"/>
<polygon points="768,381.1 773.4,381.1 770.7,386.1" fill="#7400a0"/>
<text x="0" y="0" font-size="11.4" text-anchor="start" font-weight="bold" fill="#000" transform="translate(131.98,229.75) scale(1.009,1.0)">Time (day)</text>
<text x="0" y="0" font-size="11.7" text-anchor="start" font-weight="bold" fill="#000" transform="translate(25.2,166.06) rotate(-90) scale(1.0004,1.0)">Body weight(g)</text>
<text x="0" y="0" font-size="13.3" text-anchor="start" font-weight="bold" fill="#000" transform="translate(128.4,44.2) scale(1.0005,1.0)">WT mice</text>
<text x="0" y="0" font-size="11.4" text-anchor="start" font-weight="bold" fill="#000" transform="translate(305.1,178.44) rotate(-90) scale(0.9947,1.0)">Body weight(g)</text>
<text x="0" y="0" font-size="13.2" text-anchor="start" font-weight="bold" fill="#000" transform="translate(396.8,68.7) scale(0.9728,1.0)">WT mice</text>
<text x="0" y="0" font-size="11.5" text-anchor="start" font-weight="bold" fill="#000" transform="translate(660.23,231.5) scale(0.8964,1.0)">Months</text>
<text x="0" y="0" font-size="11.3" text-anchor="start" font-weight="bold" fill="#000" transform="translate(549.2,160.63) rotate(-90) scale(0.9932,1.0)">Food intake</text>
<text x="0" y="0" font-size="11.3" text-anchor="start" font-weight="bold" fill="#000" transform="translate(562.1,167.4) rotate(-90) scale(0.9914,1.0)">(g/day/mouse)</text>
<text x="0" y="0" font-size="12.8" text-anchor="start" font-weight="bold" fill="#000" transform="translate(654.5,43.4) scale(0.9132,1.0)">WT mice</text>
<text x="0" y="0" font-size="11.5" text-anchor="start" font-weight="bold" fill="#000" transform="translate(134.98,488.7) scale(1.0223,1.0)">Time (day)</text>
<text x="0" y="0" font-size="11.9" text-anchor="start" font-weight="bold" fill="#000" transform="translate(25.3,424.27) rotate(-90) scale(1.0001,1.0)">Body weight(g)</text>
<text x="0" y="0" font-size="13.4" text-anchor="start" font-weight="bold" fill="#000" transform="translate(115.16,299.9) scale(1.0139,1.0)">TRPV1</text>
<text x="0" y="0" font-size="9.6" text-anchor="start" font-weight="bold" fill="#000" transform="translate(159.03,293.2) scale(1.1225,1.0)" font-style="italic">-/-</text>
<text x="0" y="0" font-size="13.4" text-anchor="start" font-weight="bold" fill="#000" transform="translate(173.05,299.9) scale(0.9708,1.0)">mice</text>
<text x="0" y="0" font-size="11.65" text-anchor="start" font-weight="bold" fill="#000" transform="translate(301.2,436.76) rotate(-90) scale(1.0011,1.0)">Body weight(g)</text>
<text x="0" y="0" font-size="13.0" text-anchor="start" font-weight="bold" fill="#000" transform="translate(386.97,323.7) scale(0.9872,1.0)">TRPV1</text>
<text x="0" y="0" font-size="9.4" text-anchor="start" font-weight="bold" fill="#000" transform="translate(429.44,317.6) scale(1.1225,1.0)" font-style="italic">-/-</text>
<text x="0" y="0" font-size="13.0" text-anchor="start" font-weight="bold" fill="#000" transform="translate(447.28,323.7) scale(0.976,1.0)">mice</text>
<text x="0" y="0" font-size="11.2" text-anchor="start" font-weight="bold" fill="#000" transform="translate(662.35,486.9) scale(0.8894,1.0)">Months</text>
<text x="0" y="0" font-size="11.3" text-anchor="start" font-weight="bold" fill="#000" transform="translate(558.1,415.63) rotate(-90) scale(0.9932,1.0)">Food intake</text>
<text x="0" y="0" font-size="11.3" text-anchor="start" font-weight="bold" fill="#000" transform="translate(570.3,422.4) rotate(-90) scale(0.9914,1.0)">(g/day/mouse)</text>
<text x="0" y="0" font-size="13.0" text-anchor="start" font-weight="bold" fill="#000" transform="translate(642.79,297.9) scale(0.8568,1.0)">TRPV1</text>
<text x="0" y="0" font-size="8.8" text-anchor="start" font-weight="bold" fill="#000" transform="translate(680.08,292.5) scale(0.9822,1.0)" font-style="italic">-/-</text>
<text x="0" y="0" font-size="12.6" text-anchor="start" font-weight="bold" fill="#000" transform="translate(691.16,297.9) scale(0.9088,1.0)">mice</text>
</svg>
</body></html>
